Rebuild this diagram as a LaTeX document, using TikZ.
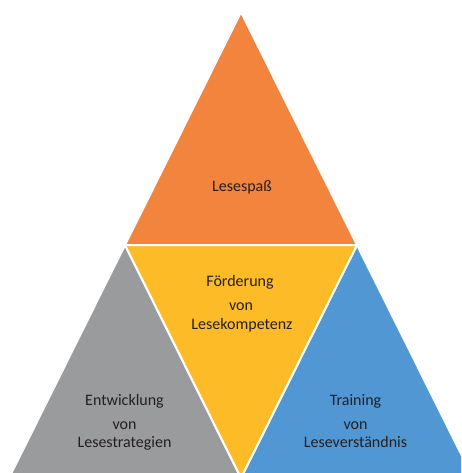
\documentclass[tikz,border=0pt]{standalone}
\usepackage{fontspec}
\setmainfont{Carlito}
\begin{document}
\definecolor{spass}{HTML}{F2843E}
\definecolor{strat}{HTML}{9A9B9D}
\definecolor{kompetenz}{HTML}{FDBB28}
\definecolor{verstand}{HTML}{5097D4}
\definecolor{ink}{HTML}{231F20}
\begin{tikzpicture}[x=1pt,y=-1pt,
  tri/.style={draw=white,line width=2pt,line join=miter},
  lbl/.style={anchor=base,inner sep=0pt,text=ink,font=\fontsize{16}{19}\selectfont}]
\useasboundingbox (0,0) rectangle (461,473);
\clip (0,0) rectangle (461,473);
% lattice of the triforce
\coordinate (apex) at (241,12);
\coordinate (ml) at (125,245);
\coordinate (mr) at (357,245);
\coordinate (bl) at (9,478);
\coordinate (bm) at (241,478);
\coordinate (br) at (473,478);
% four triangles
\filldraw[tri,fill=spass] (apex) -- (ml) -- (mr) -- cycle;
\filldraw[tri,fill=strat] (ml) -- (bl) -- (bm) -- cycle;
\filldraw[tri,fill=verstand] (mr) -- (bm) -- (br) -- cycle;
\filldraw[tri,fill=kompetenz] (ml) -- (mr) -- (bm) -- cycle;
% labels
\node[lbl] (top) at (242,191) {Lesespaß};
\node[lbl] (mid1) at (240,286) {Förderung};
\node[lbl] (mid2) at (241,310) {von};
\node[lbl] (mid3) at (242,329) {Lesekompetenz};
\node[lbl] (left1) at (124.5,405.5) {Entwicklung};
\node[lbl] (left2) at (124.5,429) {von};
\node[lbl] (left3) at (124.5,447.5) {Lesestrategien};
\node[lbl] (right1) at (355.5,405.5) {Training};
\node[lbl] (right2) at (355.5,429) {von};
\node[lbl] (right3) at (355.5,447.5) {Leseverständnis};
\end{tikzpicture}
\end{document}
